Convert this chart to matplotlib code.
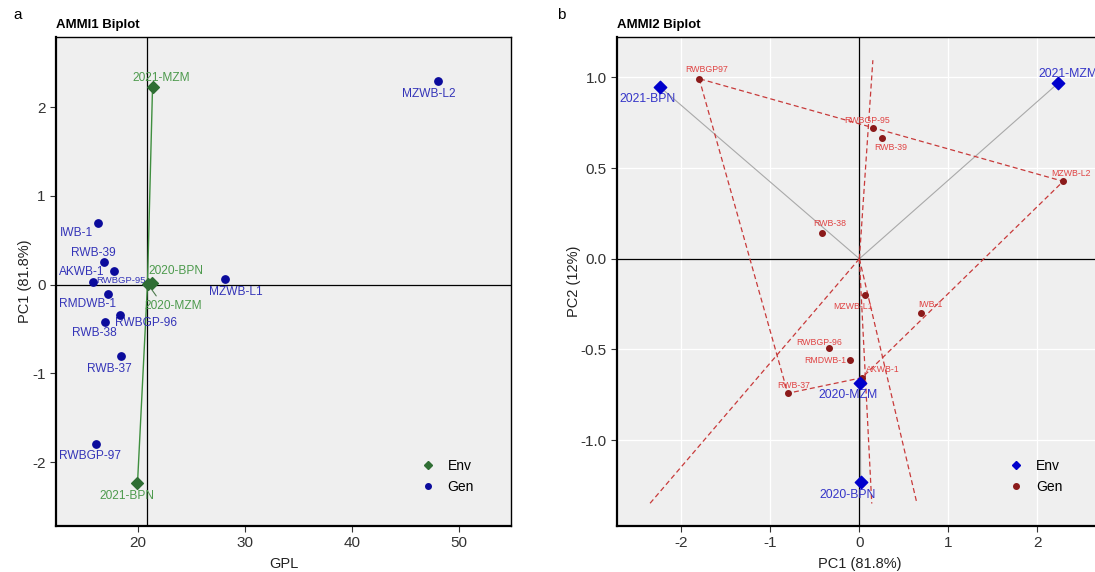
import numpy as np
import matplotlib.pyplot as plt
from matplotlib.lines import Line2D

# genotype / environment scores
gen_names = ["MZWB-L2", "IWB-1", "RWB-39", "AKWB-1", "RWBGP-95", "RMDWB-1",
             "RWBGP-96", "RWB-38", "RWB-37", "RWBGP-97", "MZWB-L1"]
gen_gpl = [48.1, 16.2, 16.76, 15.8, 17.7, 17.17, 18.25, 16.85, 18.41, 16.05, 28.16]
gen_pc1 = [2.29, 0.69, 0.25, 0.03, 0.155, -0.11, -0.345, -0.42, -0.805, -1.80, 0.067]
gen_pc2 = [0.427, -0.301, 0.666, -0.656, 0.72, -0.559, -0.494, 0.14, -0.742, 0.993, -0.202]

env_names = ["2021-MZM", "2020-BPN", "2020-MZM", "2021-BPN"]
env_gpl = [21.34, 21.28, 20.90, 19.93]
env_pc1 = [2.23, 0.015, 0.005, -2.24]
env_pc2 = [0.967, -1.232, -0.687, 0.947]

# the AMMI2 plot labels genotypes slightly differently
gen_names2 = list(gen_names)
gen_names2[9] = "RWBGP97"

# label offsets in pixels (dx, dy with y going down)
off_a = {"MZWB-L2": (-10, 13), "IWB-1": (-21, 10), "RWB-39": (-10, -9),
         "AKWB-1": (-12, -10), "RWBGP-95": (7, 10), "RMDWB-1": (-21, 10),
         "RWBGP-96": (26, 8), "RWB-38": (-10, 11), "RWB-37": (-12, 13),
         "RWBGP-97": (-6, 12), "MZWB-L1": (10, 13),
         "2021-MZM": (9, -9), "2020-BPN": (24, -12), "2020-MZM": (25, 22),
         "2021-BPN": (-11, 13)}
off_b = {"RWBGP97": (8, -9), "RWBGP-95": (-6, -8), "RWB-39": (9, 10),
         "MZWB-L2": (8, -8), "RWB-38": (8, -10), "MZWB-L1": (-12, 11),
         "IWB-1": (10, -9), "RWBGP-96": (-9, -6), "RMDWB-1": (-24, 0),
         "AKWB-1": (21, -8), "RWB-37": (6, -8),
         "2021-BPN": (-12, 12), "2021-MZM": (10, -9), "2020-MZM": (-12, 12),
         "2020-BPN": (-13, 13)}
# a few labels were shrunk by the repel step in the original
size_a = {"RWBGP-95": 6.8}

plt.rcParams['font.family'] = ['Liberation Sans', 'DejaVu Sans']
plt.rcParams['axes.unicode_minus'] = False

BG = "#efefef"


def style_axes(ax):
    ax.set_facecolor(BG)
    for s in ax.spines.values():
        s.set_color("black")
        s.set_linewidth(1.0)
    ax.spines['bottom'].set_linewidth(1.6)
    ax.spines['left'].set_linewidth(1.6)
    ax.tick_params(direction='out', length=4, width=0.8, color="#333333",
                   labelsize=11, labelcolor="#333333")


def label(ax, x, y, txt, off, color, size):
    ax.annotate(txt, (x, y), xytext=(off[0], -off[1]), textcoords='offset pixels',
                ha='center', va='center', color=color, fontsize=size)


def hull(pts):
    pts = sorted(pts)
    def cross(o, a, b):
        return (a[0] - o[0]) * (b[1] - o[1]) - (a[1] - o[1]) * (b[0] - o[0])
    lower, upper = [], []
    for p in pts:
        while len(lower) >= 2 and cross(lower[-2], lower[-1], p) <= 0:
            lower.pop()
        lower.append(p)
    for p in reversed(pts):
        while len(upper) >= 2 and cross(upper[-2], upper[-1], p) <= 0:
            upper.pop()
        upper.append(p)
    return lower[:-1] + upper[:-1]


fig = plt.figure(figsize=(10.95, 5.72), dpi=100)

# ---------------- AMMI1 ----------------
ax1 = fig.add_axes([56 / 1095, 46 / 572, 455 / 1095, 489 / 572])
style_axes(ax1)
ax1.set_xlim(12.3, 54.9)
ax1.set_ylim(-2.72, 2.79)
ax1.set_xticks([20, 30, 40, 50])
ax1.set_yticks([-2, -1, 0, 1, 2])
gmean = np.mean(env_gpl)
ax1.axhline(0, color="black", lw=0.9, zorder=1)
ax1.axvline(gmean, color="black", lw=0.9, zorder=1)
for x, y in zip(env_gpl, env_pc1):
    ax1.plot([gmean, x], [0, y], color="#3f8f3f", lw=1.0, zorder=2)
ax1.scatter(gen_gpl, gen_pc1, s=28, color="#0b0b9c", zorder=4)
ax1.scatter(env_gpl, env_pc1, s=36, marker='D', color="#2f6e34", zorder=4)
for n, x, y in zip(gen_names, gen_gpl, gen_pc1):
    label(ax1, x, y, n, off_a[n], "#3434b8", size_a.get(n, 8.6))
for n, x, y in zip(env_names, env_gpl, env_pc1):
    label(ax1, x, y, n, off_a[n], "#4d9a4d", 8.6)
# leader for 2020-MZM
i = env_names.index("2020-MZM")
ax1.annotate("", (env_gpl[i], env_pc1[i]), xytext=(10, -14), textcoords='offset pixels',
             arrowprops=dict(arrowstyle='-', color="#4d7a4d", lw=0.8))
ax1.set_xlabel("GPL", fontsize=10.5, color="#222222", labelpad=5)
ax1.set_ylabel("PC1 (81.8%)", fontsize=10.5, color="#222222", labelpad=0)
h1 = [Line2D([], [], ls='none', marker='D', ms=4, color="#2f6e34"),
      Line2D([], [], ls='none', marker='o', ms=4, color="#0b0b9c")]
ax1.legend(h1, ["Env", "Gen"], loc='lower left', bbox_to_anchor=(0.76, 0.04),
           frameon=False, prop={'size': 10}, handletextpad=0.4, labelspacing=0.5)

fig.text(13 / 1095, 1 - 15 / 572, "a", fontsize=11, va='center', ha='left')
fig.text(56 / 1095, 1 - 25 / 572, "AMMI1 Biplot", fontsize=9.5, weight='bold',
         va='center', ha='left')

# ---------------- AMMI2 ----------------
x0, x1 = -2.72, 2.72
ax2 = fig.add_axes([617.3 / 1095, 46 / 572, (x1 - x0) * 89 / 1095, 489 / 572])
style_axes(ax2)
ax2.set_xlim(x0, x1)
ax2.set_ylim(-1.474, 1.223)
ax2.set_xticks([-2, -1, 0, 1, 2])
ax2.set_yticks([-1.0, -0.5, 0.0, 0.5, 1.0])
ax2.set_yticklabels(["-1.0", "-0.5", "0.0", "0.5", "1.0"])
ax2.grid(True, color="white", lw=0.9)
ax2.set_axisbelow(True)
for x, y in zip(env_pc1, env_pc2):
    ax2.plot([0, x], [0, y], color="#a9a9a9", lw=0.8, zorder=1)
ax2.axhline(0, color="black", lw=0.9, zorder=2)
ax2.axvline(0, color="black", lw=0.9, zorder=2)

hp = hull(list(zip(gen_pc1, gen_pc2)))
hx = [p[0] for p in hp] + [hp[0][0]]
hy = [p[1] for p in hp] + [hp[0][1]]
ax2.plot(hx, hy, color="#c83a3a", lw=0.9, ls=(0, (4, 2.5)), zorder=3)
ray_top, ray_bot = 1.095, -1.35
for k in range(len(hp)):
    p = np.array(hp[k])
    q = np.array(hp[(k + 1) % len(hp)])
    d = q - p
    t = -p.dot(d) / d.dot(d)
    f = p + t * d
    s = (ray_top if f[1] > 0 else ray_bot) / f[1]
    ax2.plot([0, f[0] * s], [0, f[1] * s], color="#c83a3a", lw=0.9,
             ls=(0, (4, 2.5)), zorder=3)

ax2.scatter(gen_pc1, gen_pc2, s=16, color="#8b1a1a", zorder=4)
ax2.scatter(env_pc1, env_pc2, s=40, marker='D', color="#0000cc", zorder=4)
for n, x, y in zip(gen_names2, gen_pc1, gen_pc2):
    label(ax2, x, y, n, off_b[n], "#e04444", 6.3)
for n, x, y in zip(env_names, env_pc1, env_pc2):
    label(ax2, x, y, n, off_b[n], "#3535c8", 8.8)
ax2.set_xlabel("PC1 (81.8%)", fontsize=10.5, color="#222222", labelpad=5)
ax2.set_ylabel("PC2 (12%)", fontsize=10.5, color="#222222", labelpad=0)
h2 = [Line2D([], [], ls='none', marker='D', ms=4, color="#0000cc"),
      Line2D([], [], ls='none', marker='o', ms=4, color="#8b1a1a")]
ax2.legend(h2, ["Env", "Gen"], loc='lower left', bbox_to_anchor=(0.77, 0.04),
           frameon=False, prop={'size': 10}, handletextpad=0.4, labelspacing=0.5)

fig.text(557 / 1095, 1 - 15 / 572, "b", fontsize=11, va='center', ha='left')
fig.text(617.3 / 1095, 1 - 25 / 572, "AMMI2 Biplot", fontsize=9.5, weight='bold',
         va='center', ha='left')

fig.savefig("out.png", dpi=100)
